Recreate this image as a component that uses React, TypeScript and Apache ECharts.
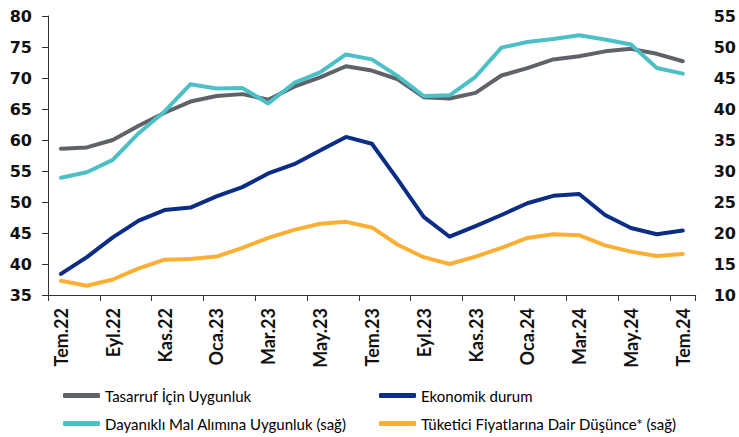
import React, { useEffect, useRef } from "react";
import * as echarts from "echarts";

const categories = [
  "Tem.22", "Ağu.22", "Eyl.22", "Eki.22", "Kas.22", "Ara.22",
  "Oca.23", "Şub.23", "Mar.23", "Nis.23", "May.23", "Haz.23",
  "Tem.23", "Ağu.23", "Eyl.23", "Eki.23", "Kas.23", "Ara.23",
  "Oca.24", "Şub.24", "Mar.24", "Nis.24", "May.24", "Haz.24", "Tem.24",
];

const tasarruf = [
  58.6, 58.8, 60.0, 62.3, 64.4, 66.2, 67.1, 67.4, 66.5, 68.6, 70.1, 71.9,
  71.2, 69.8, 66.9, 66.7, 67.6, 70.4, 71.6, 73.0, 73.5, 74.3, 74.7, 73.9, 72.7,
];

const ekonomik = [
  38.4, 41.1, 44.3, 47.0, 48.7, 49.1, 50.9, 52.4, 54.6, 56.1, 58.3, 60.5,
  59.4, 53.6, 47.6, 44.4, 46.1, 47.9, 49.8, 51.0, 51.3, 47.9, 45.8, 44.8, 45.4,
];

const dayanikli = [
  28.9, 29.8, 31.8, 36.1, 39.6, 44.0, 43.3, 43.4, 40.9, 44.2, 45.9, 48.8,
  48.0, 45.3, 42.1, 42.2, 45.2, 49.9, 50.8, 51.3, 51.9, 51.2, 50.4, 46.6, 45.7,
];

const tuketici = [
  12.3, 11.5, 12.5, 14.3, 15.7, 15.8, 16.2, 17.6, 19.2, 20.5, 21.5, 21.8,
  20.9, 18.1, 16.1, 15.0, 16.2, 17.6, 19.2, 19.8, 19.65, 18.0, 17.0, 16.3, 16.6,
];

const names = [
  "Tasarruf İçin Uygunluk",
  "Ekonomik durum",
  "Dayanıklı Mal Alımına Uygunluk (sağ)",
  "Tüketici Fiyatlarına Dair Düşünce* (sağ)",
];
const colors = ["#5F6368", "#0B2D86", "#4CC0C7", "#FBB034"];

export default function App() {
  const ref = useRef<HTMLDivElement>(null);
  useEffect(() => {
    document.body.style.margin = "0";
    document.body.style.overflow = "hidden";
    if (!ref.current) return;
    const chart = echarts.init(ref.current, undefined, { renderer: "svg" });
    const mkSeries = (i: number, data: number[], yAxisIndex: number) => ({
      name: names[i],
      type: "line",
      data,
      yAxisIndex,
      symbol: "none",
      lineStyle: { color: colors[i], width: 4, cap: "round", join: "round" },
      itemStyle: { color: colors[i] },
    });
    const legendText = {
      fontFamily: "Lato",
      fontSize: 15,
      color: "#000",
      fontWeight: "normal",
    };
    const mkLegend = (i: number, left: number, top: number) => ({
      data: [names[i]],
      left,
      top,
      icon: "roundRect",
      itemWidth: 37,
      itemHeight: 5,
      itemGap: 0,
      padding: 0,
      textStyle: legendText,
    });
    chart.setOption({
      animation: false,
      backgroundColor: "#ffffff",
      grid: { left: 48, right: 39, top: 16, bottom: 142, containLabel: false },
      legend: [
        mkLegend(0, 63, 388),
        mkLegend(1, 379, 388),
        mkLegend(2, 63, 416),
        mkLegend(3, 379, 416),
      ],
      xAxis: {
        type: "category",
        data: categories,
        boundaryGap: true,
        axisLine: { show: true, lineStyle: { color: "#333", width: 1 } },
        axisTick: { show: true, interval: 1, length: 6, lineStyle: { color: "#333" } },
        axisLabel: {
          interval: 1,
          rotate: 90,
          margin: 13,
          fontFamily: "Lato",
          fontWeight: "bold",
          fontSize: 18,
          color: "#111",
        },
      },
      yAxis: [
        {
          type: "value",
          min: 35,
          max: 80,
          interval: 5,
          axisLine: { show: true, lineStyle: { color: "#333", width: 1 } },
          axisTick: { show: true, length: 6, lineStyle: { color: "#333" } },
          splitLine: { show: false },
          axisLabel: {
            margin: 16,
            fontFamily: "DejaVu Sans",
            fontWeight: "bold",
            fontSize: 16,
            color: "#111",
          },
        },
        {
          type: "value",
          min: 10,
          max: 55,
          interval: 5,
          position: "right",
          axisLine: { show: false },
          axisTick: { show: false },
          splitLine: { show: false },
          axisLabel: {
            margin: 18,
            fontFamily: "DejaVu Sans",
            fontWeight: "bold",
            fontSize: 16,
            color: "#111",
          },
        },
      ],
      series: [
        mkSeries(0, tasarruf, 0),
        mkSeries(1, ekonomik, 0),
        mkSeries(2, dayanikli, 1),
        mkSeries(3, tuketici, 1),
      ],
    });
    return () => chart.dispose();
  }, []);
  return (
    <div
      ref={ref}
      style={{ position: "fixed", left: 0, top: 0, width: 739, height: 437 }}
    />
  );
}
